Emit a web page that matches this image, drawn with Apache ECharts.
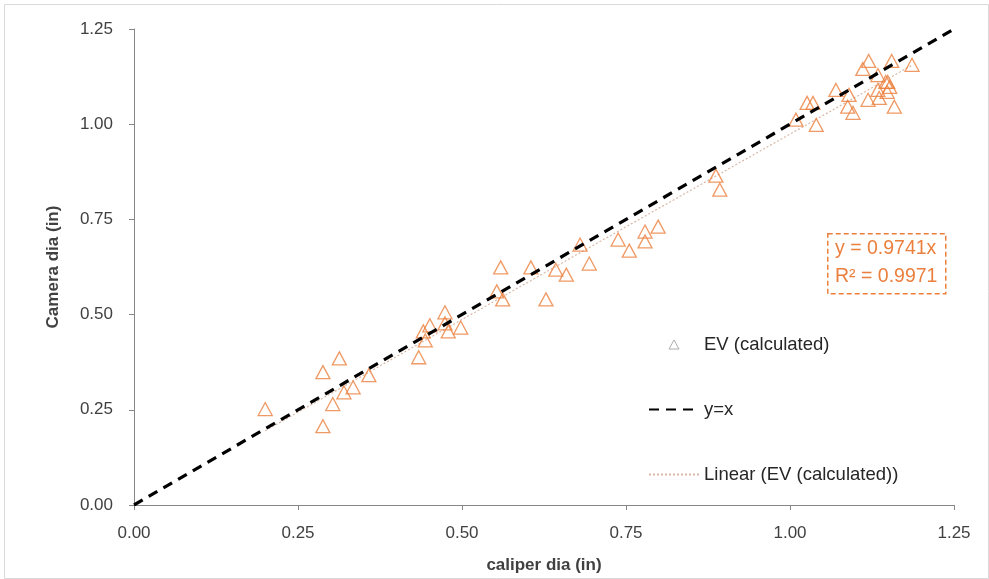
<!DOCTYPE html>
<html>
<head>
<meta charset="utf-8">
<script src="https://cdn.jsdelivr.net/npm/echarts@6/dist/echarts.min.js"></script>
<style>
html,body{margin:0;padding:0;background:#fff;}
#chart{width:989px;height:579px;}
</style>
</head>
<body>
<div id="chart"></div>
<script>
// ---- data ----
const caliperDia = [0.200,0.288,0.313,0.288,0.303,0.320,0.334,0.358,0.434,0.441,0.444,0.451,0.474,0.474,0.479,0.498,
  0.553,0.559,0.562,0.605,0.628,0.643,0.659,0.680,0.694,0.738,0.755,0.779,0.779,0.799,0.887,0.893,
  1.009,1.040,1.026,1.035,1.070,1.090,1.088,1.096,1.111,1.120,1.119,1.134,1.134,1.136,1.146,1.149,1.152,1.155,1.159,1.186,1.148];
const cameraDia = [0.252,0.349,0.385,0.207,0.265,0.296,0.309,0.341,0.388,0.456,0.432,0.472,0.477,0.506,0.456,0.466,
  0.561,0.624,0.540,0.624,0.540,0.618,0.605,0.684,0.634,0.697,0.668,0.692,0.718,0.731,0.865,0.828,
  1.012,0.998,1.056,1.056,1.090,1.077,1.046,1.030,1.145,1.166,1.064,1.129,1.090,1.069,1.111,1.111,1.098,1.166,1.046,1.156,1.085];
const identityLine = [[0,0],[1.25,1.25]];
const trendLine = [[0.200,0.195],[1.186,1.155]];
const axisTicks = [0.00,0.25,0.50,0.75,1.00,1.25];
const seriesNames = ['EV (calculated)','y=x','Linear (EV (calculated))'];
const equationText = ['y = 0.9741x','R\u00B2 = 0.9971'];

const points = caliperDia.map((x,i)=>[x,cameraDia[i]]);
const FONT = '"Liberation Sans", Arial, sans-serif';
const orange = '#EB7F3D';

const chart = echarts.init(document.getElementById('chart'));
chart.setOption({
  backgroundColor:'#fff',
  animation:false,
  grid:{left:134,right:35,top:29,bottom:73,containLabel:false},
  xAxis:{
    type:'value',min:axisTicks[0],max:axisTicks[axisTicks.length-1],interval:0.25,
    name:'caliper dia (in)',nameLocation:'middle',nameGap:52,
    nameTextStyle:{fontFamily:FONT,fontSize:17,fontWeight:'bold',color:'#404040'},
    axisLine:{lineStyle:{color:'#868686',width:1}},
    axisTick:{show:true,length:5,lineStyle:{color:'#868686'}},
    axisLabel:{fontFamily:FONT,fontSize:17,color:'#404040',margin:20,formatter:v=>v.toFixed(2)},
    splitLine:{show:false}
  },
  yAxis:{
    type:'value',min:axisTicks[0],max:axisTicks[axisTicks.length-1],interval:0.25,
    name:'Camera dia (in)',nameLocation:'middle',nameGap:72,nameRotate:90,
    nameTextStyle:{fontFamily:FONT,fontSize:17,fontWeight:'bold',color:'#404040'},
    axisLine:{show:true,lineStyle:{color:'#868686',width:1}},
    axisTick:{show:true,length:5,lineStyle:{color:'#868686'}},
    axisLabel:{fontFamily:FONT,fontSize:17,color:'#404040',margin:21,formatter:v=>v.toFixed(2)},
    splitLine:{show:false}
  },
  legend:{
    orient:'vertical',left:643,top:330,itemGap:46,itemWidth:50,itemHeight:9,
    symbolKeepAspect:true,
    textStyle:{fontFamily:FONT,fontSize:18.5,color:'#262626'},
    data:[
      {name:seriesNames[0],icon:'path://M5,0L10,9L0,9Z',itemStyle:{color:'transparent',borderColor:'#9a9a9a',borderWidth:1}},
      {name:seriesNames[1],itemStyle:{opacity:0}},
      {name:seriesNames[2],itemStyle:{opacity:0}}
    ]
  },
  series:[
    {
      name:seriesNames[0],type:'scatter',data:points,
      symbol:'triangle',symbolSize:[14,13],
      itemStyle:{color:'transparent',borderColor:orange,borderWidth:1.3},
      z:3
    },
    {
      name:seriesNames[1],type:'line',data:identityLine,showSymbol:false,symbol:'none',
      lineStyle:{color:'#000',width:3.2,type:[10,7]},z:4
    },
    {
      name:seriesNames[2],type:'line',data:trendLine,showSymbol:false,symbol:'none',
      lineStyle:{color:'#D9B8A6',width:1.2,type:[2,2]},z:2
    }
  ],
  graphic:[
    {type:'rect',left:2,top:2,shape:{width:984,height:574},
     style:{fill:'none',stroke:'#D9D9D9',lineWidth:1},silent:true},
    {type:'rect',left:827,top:233,shape:{width:118,height:60},
     style:{fill:'#fff',stroke:orange,lineWidth:1.5,lineDash:[5,3]},z:10},
    {type:'text',left:835,top:239,z:11,
     style:{text:equationText[0],font:'19.5px '+FONT,fill:orange}},
    {type:'text',left:835,top:267,z:11,
     style:{text:equationText[1],font:'19.5px '+FONT,fill:orange}}
  ]
});
</script>
</body>
</html>
